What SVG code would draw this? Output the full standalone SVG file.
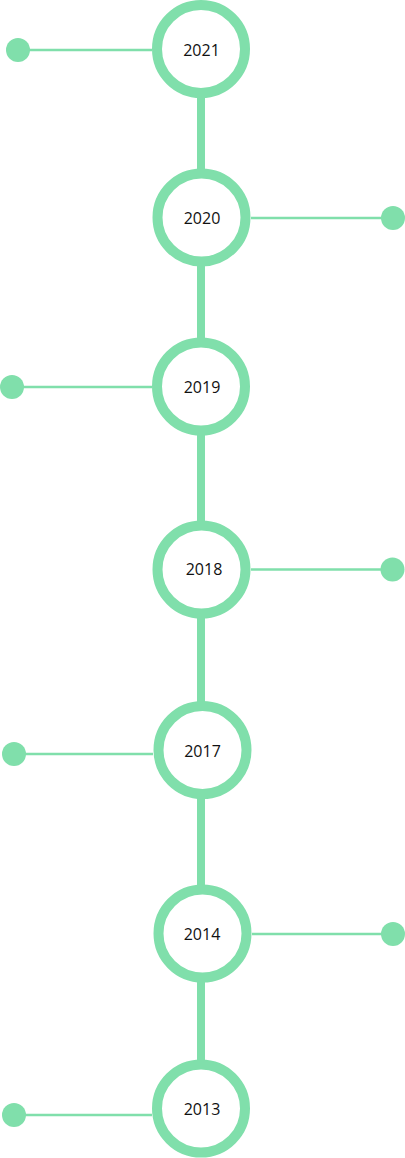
<svg xmlns="http://www.w3.org/2000/svg" width="405" height="1158" viewBox="0 0 405 1158">
<style>
.ring{fill:#fff;stroke:#80dfab;stroke-width:10}
.dot{fill:#80dfab}
.spine{stroke:#80dfab;stroke-width:8;fill:none}
.arm{stroke:#80dfab;stroke-width:2.5;fill:none}
.lbl{font-family:"Open Sans","Noto Sans",sans-serif;font-size:16px;fill:#111;text-anchor:middle}
</style>
<rect width="405" height="1158" fill="#fff"/>
<g id="connectors">
<line class="spine" x1="201" y1="90" x2="201" y2="180"/>
<line class="spine" x1="201" y1="260" x2="201" y2="345"/>
<line class="spine" x1="201" y1="430" x2="201" y2="525"/>
<line class="spine" x1="201" y1="610" x2="201" y2="710"/>
<line class="spine" x1="201" y1="790" x2="201" y2="890"/>
<line class="spine" x1="201" y1="975" x2="201" y2="1065"/>
<line class="arm" x1="18" y1="50" x2="152" y2="50"/>
<line class="arm" x1="251" y1="218" x2="393" y2="218"/>
<line class="arm" x1="12" y1="387" x2="152" y2="387"/>
<line class="arm" x1="251" y1="569.5" x2="392" y2="569.5"/>
<line class="arm" x1="14" y1="754" x2="153" y2="754"/>
<line class="arm" x1="252" y1="934" x2="393" y2="934"/>
<line class="arm" x1="14" y1="1115" x2="152" y2="1115"/>
<circle class="dot" cx="18" cy="50" r="12"/>
<circle class="dot" cx="393" cy="218" r="12"/>
<circle class="dot" cx="12" cy="387" r="12"/>
<circle class="dot" cx="392.5" cy="569.5" r="12"/>
<circle class="dot" cx="14" cy="754" r="12"/>
<circle class="dot" cx="393" cy="934" r="12"/>
<circle class="dot" cx="14" cy="1115" r="12"/>
</g>
<g id="n2021"><circle class="ring" cx="201" cy="49" r="44"/><text class="lbl" x="201.5" y="55.5">2021</text></g>
<g id="n2020"><circle class="ring" cx="201.5" cy="217.5" r="44"/><text class="lbl" x="202" y="224">2020</text></g>
<g id="n2019"><circle class="ring" cx="201" cy="386.5" r="44"/><text class="lbl" x="202" y="393">2019</text></g>
<g id="n2018"><circle class="ring" cx="201.5" cy="569.5" r="44"/><text class="lbl" x="204" y="575">2018</text></g>
<g id="n2017"><circle class="ring" cx="202.5" cy="750" r="44"/><text class="lbl" x="202.5" y="757">2017</text></g>
<g id="n2014"><circle class="ring" cx="202.5" cy="933.5" r="44"/><text class="lbl" x="202" y="940">2014</text></g>
<g id="n2013"><circle class="ring" cx="201" cy="1108.5" r="44"/><text class="lbl" x="202" y="1115">2013</text></g>
</svg>
